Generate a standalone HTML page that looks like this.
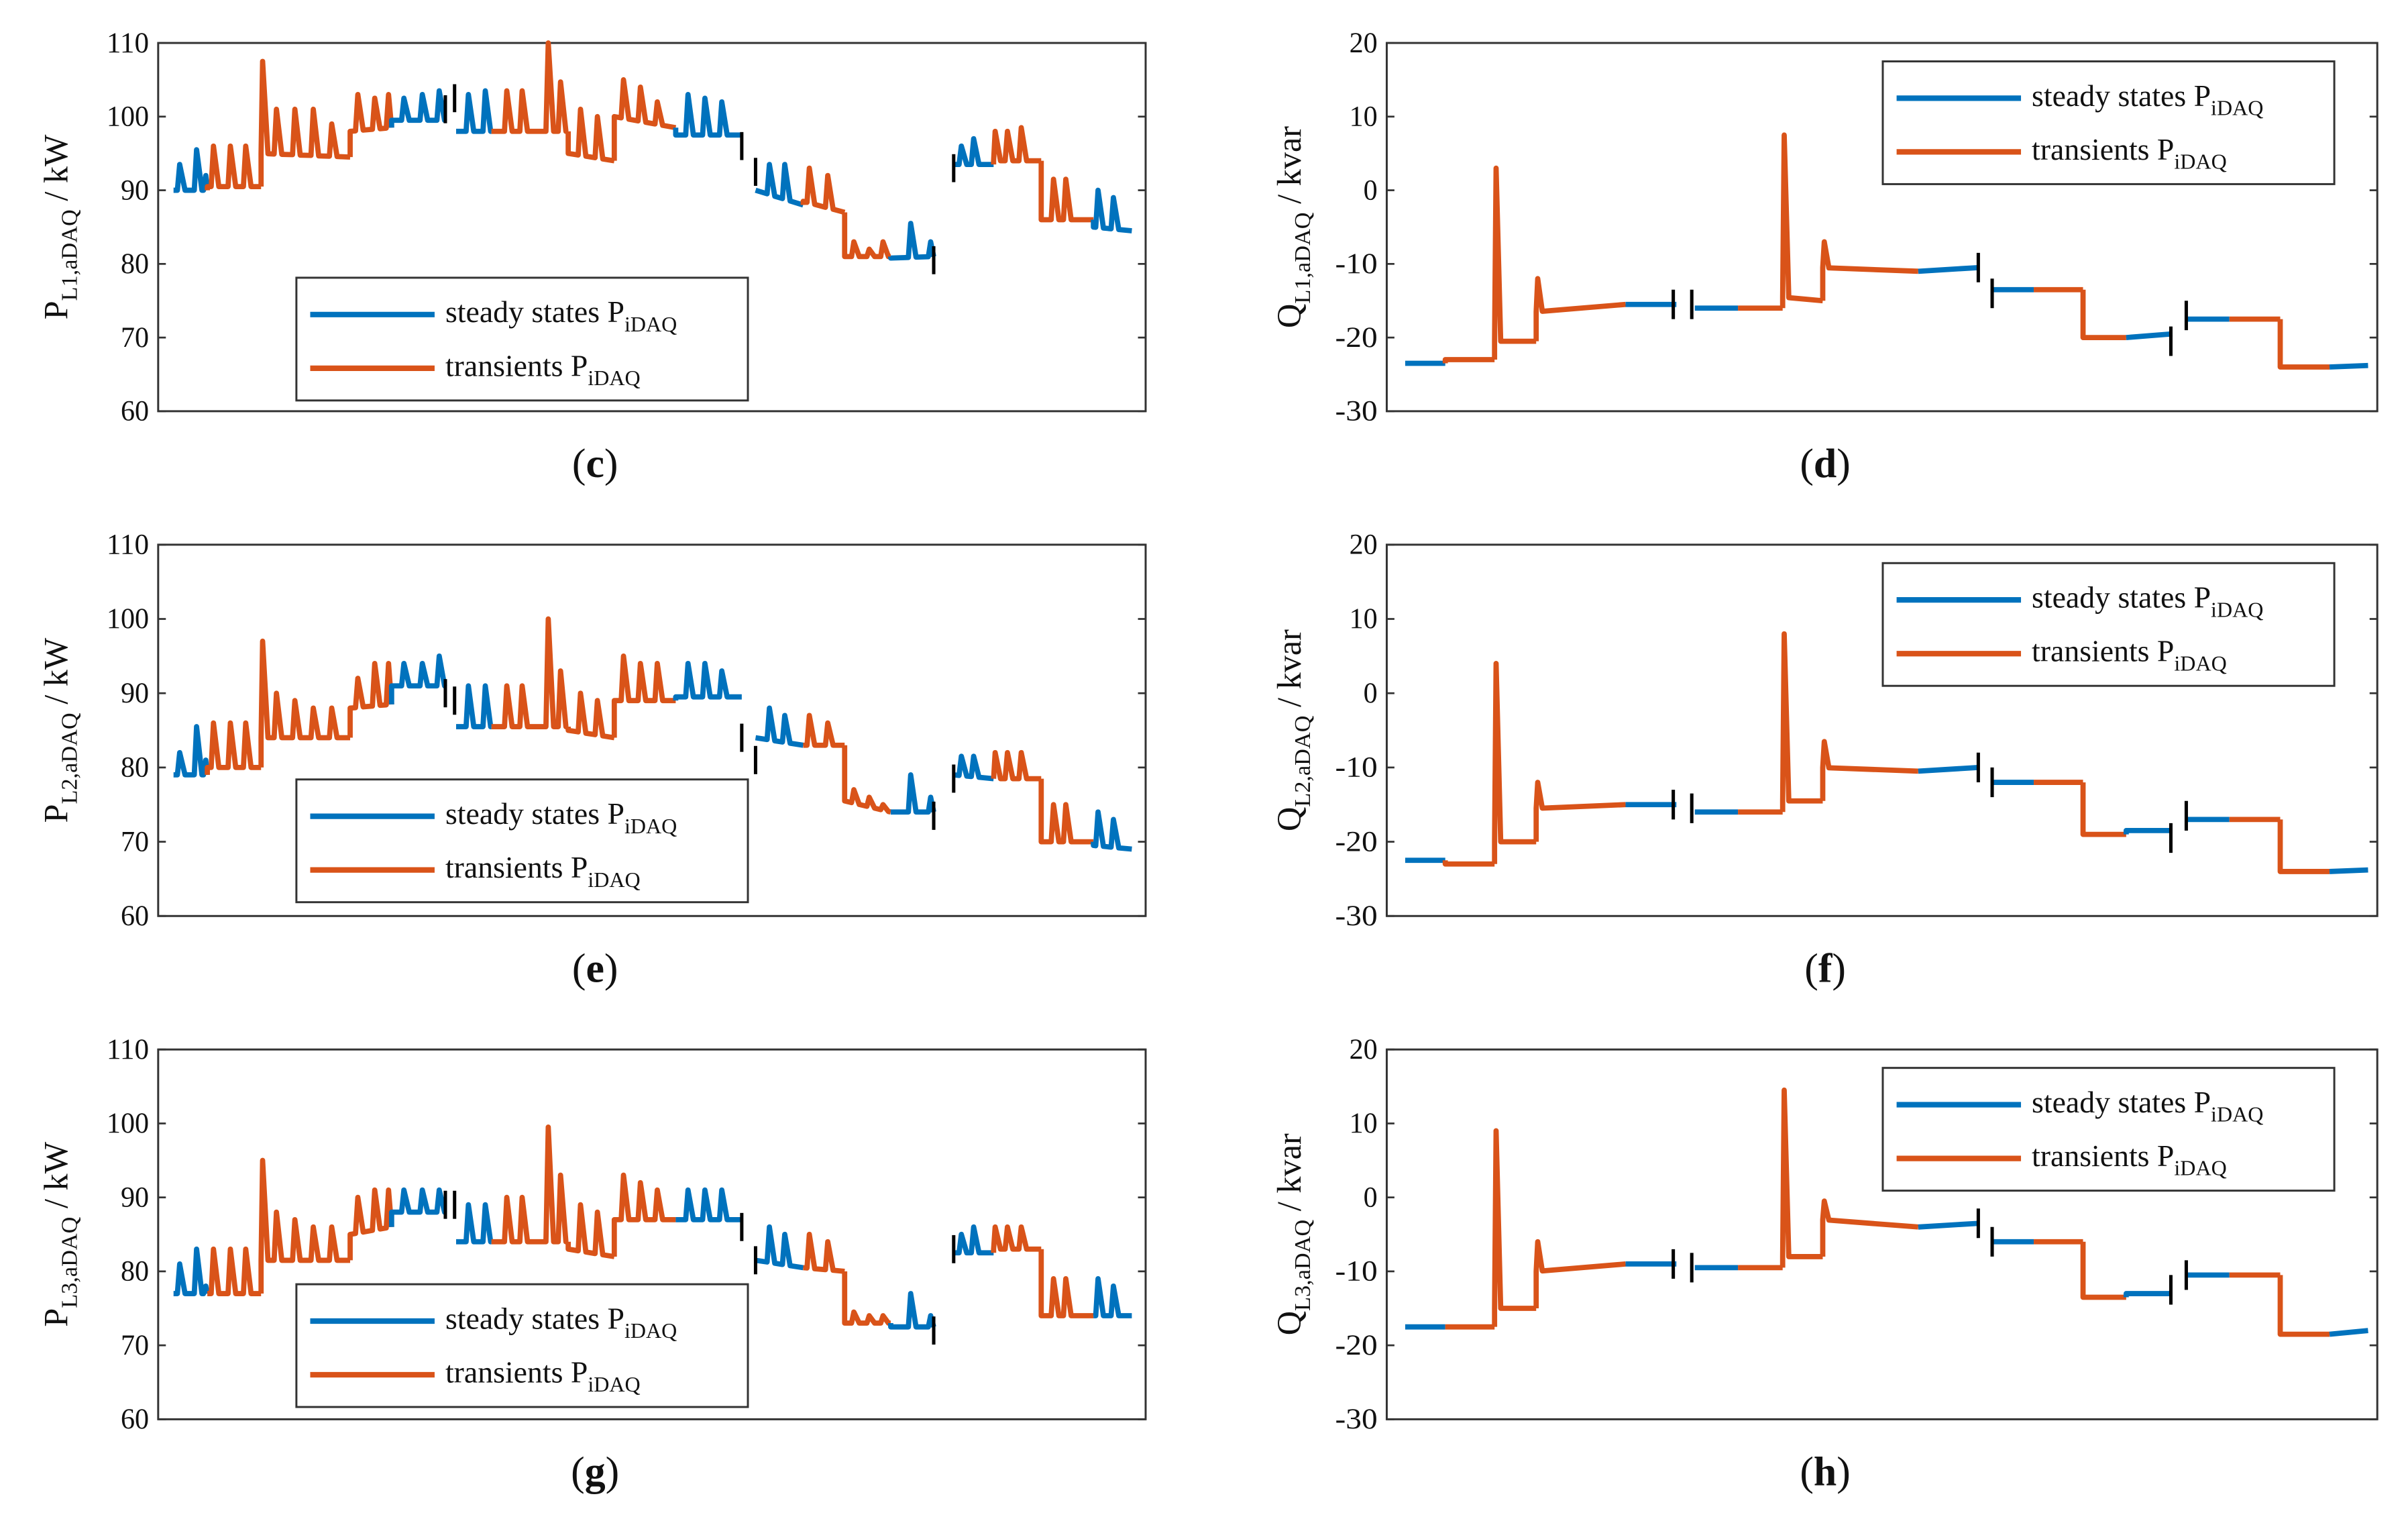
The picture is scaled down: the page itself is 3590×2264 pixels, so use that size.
<!DOCTYPE html>
<html><head><meta charset="utf-8"><style>
html,body{margin:0;padding:0;background:#fff;}
svg{display:block;}
text{font-family:"Liberation Serif",serif;fill:#111;}
</style></head><body>
<svg id="fig" xmlns="http://www.w3.org/2000/svg" width="3590" height="2264" viewBox="0 0 1568 990" preserveAspectRatio="none"></svg>
<script>
// ---- shared time grids (arbitrary time units) ----
const pStart = [10,32,67,125,152,194,217,267,297,337,389,420,447,477,518,544,575,609];
const pEnd   = [32,67,125,152,187,217,267,297,337,380,420,447,477,505,544,575,609,634];
const qStart = [12,38,70,97,155,200,228,257,283,345,394,420,452,480,520,547,580,612];
const qEnd   = [38,70,97,155,188,228,257,283,345,384,420,452,480,510,547,580,612,637];
const segKind = ['s','t','t','t','s','s','t','t','t','s','s','t','t','s','s','t','t','s'];
const segBreaks = [5,10,14];
const pSpikeT = [14,25,31,36,47,57,68,77,89,101,113,130,141,150,160,172,183,202,213,227,237,254,262,275,286,303,314,325,345,356,367,398,408,424,436,453,463,472,490,503,523,531,545,553,562,583,591,612,622];
const qSpikeT = [71,98,258,284];
const pMarkT = [187,193,380,389,505,518];
const qMarkT = [186,198,384,393,509,519];

// ---- panel c (P L1) ----
const cBase0 = [90,90.5,95,98,99.5,98,98,95,100,97.5,90,88.5,81,80.8,93.5,94,86,85];
const cBase1 = [90,90.5,94.5,98.5,99.5,98,98,94,98.5,97.5,88,87,81,81,93.5,94,86,84.5];
const cPeak = [93.5,95.5,92,96,96,96,107.5,101,101,101,99,103,102.5,103,102.5,103,103.5,103,103.5,103.5,103.5,110,104.7,101,100,105,104,102,103,102.5,102,93.5,93.5,93,92,83,82,83,85.5,83,96,97,98,98,98.5,91.5,91.5,90,89];
const cMark = [101,102.5,96,92.5,80.5,93];
// ---- panel e (P L2) ----
const eBase0 = [79,80,84,88,91,85.5,85.5,85,89,89.5,84,83,75.5,74,79,78.5,70,69.5];
const eBase1 = [79,80,84,88.5,91,85.5,85.5,84,89,89.5,83,83,74,74,78.5,78.5,70,69];
const ePeak = [82,85.5,81,86,86,86,97,90,89,88,88,92,94,94,94,94,95,91,91,91,91,100,93,90,89,95,94,94,94,94,93,88,87,87,86,77,76,75,79,76,81.5,81.5,82,82,82,75,75,74,73];
const eMark = [90,89,84,81,73.5,78.5];
// ---- panel g (P L3) ----
const gBase0 = [77,77,81.5,85,88,84,84,83,87,87,81.5,80.5,73,72.5,82.5,83,74,74];
const gBase1 = [77,77,81.5,86,88,84,84,82,87,87,80.5,80,73,72.5,82.5,83,74,74];
const gPeak = [81,83,78,83,83,83,95,88,87,86,86,90,91,91,91,91,91,89,89,90,90,99.5,93,89,88,93,92,91,91,91,91,86,85,85,84,74.5,74,74,77,74,85,86,86,86,86,79,79,79,78];
const gMark = [89,89,86,81.5,72,83];
// ---- panel d (Q L1) ----
const dBase0 = [-23.5,-23,-20.5,-16.5,-15.5,-16,-16,-14.5,-10.5,-11,-13.5,-13.5,-20,-20,-17.5,-17.5,-24,-24];
const dBase1 = [-23.5,-23,-20.5,-15.5,-15.5,-16,-16,-15,-11,-10.5,-13.5,-13.5,-20,-19.5,-17.5,-17.5,-24,-23.8];
const dPeak = [3,-12,7.5,-7];
const dMark = [-15.5,-15.5,-10.5,-14,-20.5,-17];
// ---- panel f (Q L2) ----
const fBase0 = [-22.5,-23,-20,-15.5,-15,-16,-16,-14.5,-10,-10.5,-12,-12,-19,-18.5,-17,-17,-24,-24];
const fBase1 = [-22.5,-23,-20,-15,-15,-16,-16,-14.5,-10.5,-10,-12,-12,-19,-18.5,-17,-17,-24,-23.8];
const fPeak = [4,-12,8,-6.5];
const fMark = [-15,-15.5,-10,-12,-19.5,-16.5];
// ---- panel h (Q L3) ----
const hBase0 = [-17.5,-17.5,-15,-10,-9,-9.5,-9.5,-8,-3,-4,-6,-6,-13.5,-13,-10.5,-10.5,-18.5,-18.5];
const hBase1 = [-17.5,-17.5,-15,-9,-9,-9.5,-9.5,-8,-4,-3.5,-6,-6,-13.5,-13,-10.5,-10.5,-18.5,-18];
const hPeak = [9,-6,14.5,-0.5];
const hMark = [-9,-9.5,-3.5,-6,-12.5,-10.5];

const pTicks = [110,100,90,80,70,60];
const qTicks = [20,10,0,-10,-20,-30];

const NS = "http://www.w3.org/2000/svg";
const svg = document.getElementById('fig');
const BLUE = '#0072BD', ORANGE = '#D95319';
function mk(tag, attrs, parent) {
  const el = document.createElementNS(NS, tag);
  for (const k in attrs) el.setAttribute(k, attrs[k]);
  (parent || svg).appendChild(el);
  return el;
}

const panels = [
  {id:'c', col:0, row:0, q:false, b0:cBase0, b1:cBase1, pk:cPeak, mk:cMark, sub:'L1'},
  {id:'d', col:1, row:0, q:true,  b0:dBase0, b1:dBase1, pk:dPeak, mk:dMark, sub:'L1'},
  {id:'e', col:0, row:1, q:false, b0:eBase0, b1:eBase1, pk:ePeak, mk:eMark, sub:'L2'},
  {id:'f', col:1, row:1, q:true,  b0:fBase0, b1:fBase1, pk:fPeak, mk:fMark, sub:'L2'},
  {id:'g', col:0, row:2, q:false, b0:gBase0, b1:gBase1, pk:gPeak, mk:gMark, sub:'L3'},
  {id:'h', col:1, row:2, q:true,  b0:hBase0, b1:hBase1, pk:hPeak, mk:hMark, sub:'L3'}
];
const rowTop = [28,355,684], rowBot = [268,597,925];
const colL = [103,903], colR = [746,1548];

panels.forEach(p => {
  const L = colL[p.col], R = colR[p.col], T = rowTop[p.row], B = rowBot[p.row];
  const vmax = p.q ? 20 : 110, vmin = p.q ? -30 : 60;
  const X = t => L + t * (R - L) / 643;
  const Y = v => T + (vmax - v) * (B - T) / (vmax - vmin);
  const g = mk('g', {});
  
  

  const box = mk('rect', {x:L, y:T, width:R-L, height:B-T, fill:'none', stroke:'#333', 'stroke-width':1.3}, g);
  
  

  const ticks = p.q ? qTicks : pTicks;
  ticks.forEach(v => {
    const y = Y(v);
    mk('line', {x1:L, x2:L+5, y1:y, y2:y, stroke:'#333', 'stroke-width':1.2}, g);
    mk('line', {x1:R-5, x2:R, y1:y, y2:y, stroke:'#333', 'stroke-width':1.2}, g);
    const t = mk('text', {x:L-6, y:y+6, 'text-anchor':'end', 'font-size':19, 'textLength': String(v).length*9.2, 'lengthAdjust':'spacingAndGlyphs'}, g);
    t.textContent = v;
    
    
  });

  const starts = p.q ? qStart : pStart, ends = p.q ? qEnd : pEnd;
  const spT = p.q ? qSpikeT : pSpikeT;
  const w1 = p.q ? 1.2 : 1.5, w2 = p.q ? 3 : 3.5;
  for (let i = 0; i < starts.length; i++) {
    const t0 = starts[i], t1 = ends[i];
    const base = t => p.b0[i] + (p.b1[i] - p.b0[i]) * (t - t0) / Math.max(1, t1 - t0);
    const pts = [];
    if (i > 0 && segBreaks.indexOf(i) < 0) pts.push([t0, p.b1[i-1]]);
    pts.push([t0, p.b0[i]]);
    spT.forEach((st, k) => {
      if (st >= t0 && st < t1) {
        const a = Math.max(t0, st - w1), c = Math.min(t1, st + w2);
        pts.push([a, base(a)]); pts.push([st, p.pk[k]]); pts.push([c, base(c)]);
      }
    });
    pts.push([t1, p.b1[i]]);
    const d = pts.map((q, j) => (j ? 'L' : 'M') + X(q[0]).toFixed(1) + ' ' + Y(q[1]).toFixed(1)).join(' ');
    const path = mk('path', {d:d, fill:'none', stroke: segKind[i] === 's' ? BLUE : ORANGE, 'stroke-width':3.4, 'stroke-linejoin':'round'}, g);
    
    
  }

  const mT = p.q ? qMarkT : pMarkT;
  const half = p.q ? 2 : 1.9;
  mT.forEach((t, k) => {
    const m = mk('line', {x1:X(t), x2:X(t), y1:Y(p.mk[k] + half), y2:Y(p.mk[k] - half), stroke:'#000', 'stroke-width':2.2}, g);
    
    
  });

  const cy = (T + B) / 2, lx = p.q ? 847 : 44;
  const yl = mk('text', {x:0, y:0, transform:`translate(${lx},${cy}) rotate(-90)`, 'text-anchor':'middle', 'font-size':22}, g);
  yl.innerHTML = (p.q ? 'Q' : 'P') + '<tspan font-size="15" dy="6">' + p.sub + ',aDAQ</tspan><tspan dy="-6"> / ' + (p.q ? 'kvar' : 'kW') + '</tspan>';
  
  

  const cap = mk('text', {x:(L+R)/2 - 37, y:B+43, 'text-anchor':'middle', 'font-size':27}, g);
  cap.innerHTML = '(<tspan font-weight="bold">' + p.id + '</tspan>)';
  
  

  const lgX = p.q ? 1226 : 193, lgY = p.q ? T + 12 : T + 153;
  const lg = mk('g', {}, g);
  
  
  mk('rect', {x:lgX, y:lgY, width:294, height:80, fill:'#fff', stroke:'#333', 'stroke-width':1.3}, lg);
  [['steady states P', BLUE, 24], ['transients P', ORANGE, 59]].forEach(([lab, col, dy]) => {
    const le = mk('g', {}, lg);
    
    
    mk('line', {x1:lgX+9, x2:lgX+90, y1:lgY+dy, y2:lgY+dy, stroke:col, 'stroke-width':3.6}, le);
    const tx = mk('text', {x:lgX+97, y:lgY+dy+5, 'font-size':20}, le);
    tx.innerHTML = lab + '<tspan font-size="14" dy="6">iDAQ</tspan>';
  });
});
</script>
</body></html>
